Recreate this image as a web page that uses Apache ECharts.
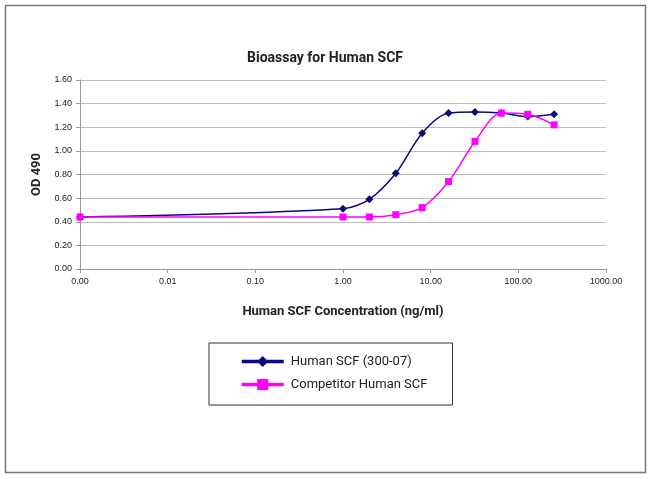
<!DOCTYPE html>
<html>
<head>
<meta charset="utf-8">
<script src="https://cdn.jsdelivr.net/npm/echarts@6/dist/echarts.min.js"></script>
<style>
  html, body { margin: 0; padding: 0; background: #fff; }
  #chart { width: 650px; height: 479px; }
</style>
</head>
<body>
<div id="chart"></div>
<script>
// concentrations (ng/ml); 0.001 stands for the "0.00" point on the log axis
const concentrations = [0.001, 1, 2, 4, 8, 16, 32, 64, 128, 256];
const humanScf = [0.44, 0.51, 0.59, 0.81, 1.15, 1.32, 1.33, 1.32, 1.29, 1.31];
const competitorScf = [0.44, 0.44, 0.44, 0.46, 0.52, 0.74, 1.08, 1.32, 1.31, 1.22];
const seriesNames = ['Human SCF (300-07)', 'Competitor Human SCF'];

function pairs(xs, ys) {
  return xs.map((x, i) => [x, ys[i]]);
}

let chart = echarts.init(document.getElementById('chart'));

let option = {
  backgroundColor: '#fff',
  animation: false,
  graphic: [{
    type: 'rect',
    shape: { x: 5.5, y: 5.5, width: 640, height: 467 },
    style: { fill: 'none', stroke: '#777', lineWidth: 1.5 },
    silent: true
  }],
  title: {
    text: 'Bioassay for Human SCF',
    left: 'center',
    top: 46,
    textStyle: { fontFamily: 'Roboto', fontWeight: 'bold', fontSize: 14, color: '#222' }
  },
  grid: { left: 80, right: 44, top: 80, bottom: 210 },
  legend: {
    orient: 'vertical',
    left: 209,
    top: 343,
    padding: [12, 25, 14, 31],
    itemGap: 10,
    itemWidth: 42,
    itemHeight: 14,
    borderColor: '#333',
    borderWidth: 1,
    backgroundColor: '#fff',
    lineStyle: { width: 3.5 },
    textStyle: { fontFamily: 'Roboto', fontSize: 13, color: '#222', padding: [0, 0, 0, 2] },
    data: seriesNames
  },
  xAxis: {
    type: 'log',
    logBase: 10,
    min: 0.001,
    max: 1000,
    name: 'Human SCF Concentration (ng/ml)',
    nameLocation: 'middle',
    nameGap: 36,
    nameTextStyle: { fontFamily: 'Roboto', fontWeight: 'bold', fontSize: 13, color: '#222' },
    axisLine: { lineStyle: { color: '#999' } },
    axisTick: { show: true, length: 4, lineStyle: { color: '#999' } },
    minorTick: { show: false },
    splitLine: { show: false },
    axisLabel: {
      fontFamily: 'Liberation Sans',
      fontSize: 9,
      color: '#222',
      margin: 8,
      formatter: v => v.toFixed(2)
    }
  },
  yAxis: {
    type: 'value',
    min: 0,
    max: 1.6,
    interval: 0.2,
    name: 'OD 490',
    nameLocation: 'middle',
    nameGap: 31,
    nameTextStyle: { fontFamily: 'Roboto', fontWeight: 'bold', fontSize: 13, color: '#222' },
    axisLine: { show: true, lineStyle: { color: '#999' } },
    axisTick: { show: true, length: 4, lineStyle: { color: '#999' } },
    splitLine: { lineStyle: { color: '#bbb' } },
    axisLabel: {
      fontFamily: 'Liberation Sans',
      fontSize: 9,
      color: '#222',
      margin: 8,
      formatter: v => v.toFixed(2)
    }
  },
  series: [
    {
      name: seriesNames[0],
      type: 'line',
      data: pairs(concentrations, humanScf),
      smooth: 0.3,
      symbol: 'diamond',
      symbolSize: 8,
      color: '#0a0a78',
      lineStyle: { width: 1.5, color: '#0a0a78' },
      itemStyle: { color: '#0a0a78' }
    },
    {
      name: seriesNames[1],
      type: 'line',
      data: pairs(concentrations, competitorScf),
      smooth: 0.3,
      symbol: 'rect',
      symbolSize: 7,
      color: '#ff00ff',
      lineStyle: { width: 1.5, color: '#ff00ff' },
      itemStyle: { color: '#ff00ff' }
    }
  ]
};

chart.setOption(option);
</script>
</body>
</html>
